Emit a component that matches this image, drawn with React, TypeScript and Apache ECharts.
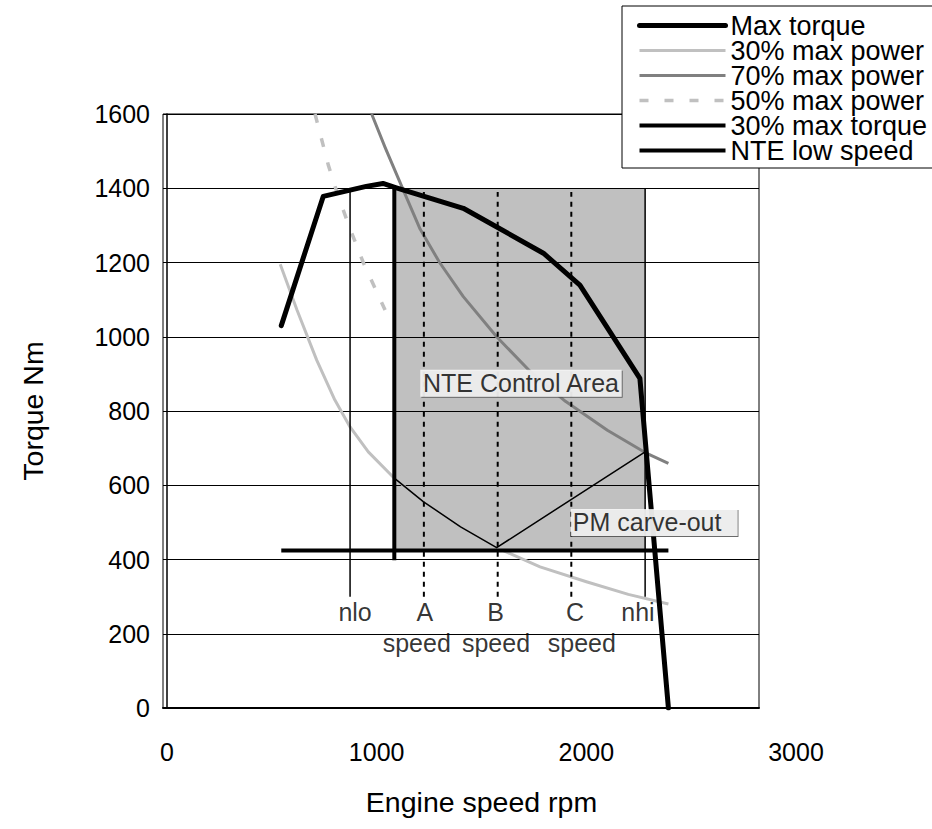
import React, { useEffect, useRef } from "react";
import * as echarts from "echarts";

// ---- data (engine speed rpm, torque Nm) ----
const maxTorque: number[][] = [
  [545, 1030], [745, 1378], [950, 1405], [1030, 1413], [1090, 1402],
  [1413, 1346], [1795, 1225], [1969, 1139], [2255, 888], [2391, 0],
];
const power30: number[][] = [
  [540, 1195], [620, 1072], [714, 937], [800, 830], [873, 757], [960, 690],
  [1084, 619], [1222, 556], [1400, 488], [1572, 432], [1779, 380],
  [2000, 340], [2200, 306], [2391, 280],
];
const power70: number[][] = [
  [976, 1600], [1040, 1510], [1127, 1395], [1207, 1290], [1300, 1200],
  [1413, 1108], [1572, 1000], [1731, 907], [1900, 826], [2100, 748],
  [2280, 688], [2391, 659],
];
const power50: number[][] = [
  [706, 1600], [769, 1463], [809, 1391], [870, 1295], [936, 1200], [1040, 1072],
];
const torque30: number[][] = [[545, 424], [2391, 424]];
const nteLowSpeed: number[][] = [[1084, 398], [1084, 1400]];
const nloLine: number[][] = [[873, 300], [873, 1395]];
const nhiLine: number[][] = [[2280, 300], [2280, 1400]];
const speedA: number[][] = [[1225, 300], [1225, 1390]];
const speedB: number[][] = [[1577, 300], [1577, 1390]];
const speedC: number[][] = [[1928, 300], [1928, 1390]];
const pmCarveOut: number[][] = [
  [1084, 619], [1222, 556], [1400, 488], [1572, 432], [2280, 690],
];
// NTE control area: [xFrom, yFrom, xTo, yTo]
const controlArea: number[] = [1084, 424, 2280, 1400];

const xTickMin = 0;
const xTickMax = 3000;
const xTickStep = 1000;
const yMin = 0;
const yMax = 1600;
const yStep = 200;

const speedMarks: { name: string; x: number; y: number }[] = [
  { name: "nlo", x: 897, y: 259 },
  { name: "A", x: 1230, y: 259 },
  { name: "B", x: 1567, y: 259 },
  { name: "C", x: 1946, y: 259 },
  { name: "nhi", x: 2246, y: 259 },
  { name: "speed", x: 1191, y: 174 },
  { name: "speed", x: 1569, y: 174 },
  { name: "speed", x: 1978, y: 174 },
];
const areaLabels: { name: string; x: number; y: number }[] = [
  { name: "NTE Control Area", x: 1688, y: 875 },
  { name: "PM carve-out", x: 2323, y: 500 },
];

const legendNames = [
  "Max torque",
  "30% max power",
  "70% max power",
  "50% max power",
  "30% max torque",
  "NTE low speed",
];

const FONT = "Liberation Sans, Arial, sans-serif";

export default function App() {
  const ref = useRef<HTMLDivElement>(null);

  useEffect(() => {
    document.body.style.margin = "0";
    const chart = echarts.init(ref.current!, null, { renderer: "svg" });

    const line = (
      name: string,
      data: number[][],
      color: string,
      width: number,
      type: any = "solid",
      extra: any = {}
    ) => ({
      type: "line",
      name,
      data,
      symbol: "none",
      silent: true,
      xAxisIndex: 0,
      yAxisIndex: 0,
      z: 2,
      lineStyle: { color, width, type, cap: "butt", join: "round", ...extra },
      itemStyle: { color },
    });

    chart.setOption({
      animation: false,
      grid: [
        {
          left: 163,
          top: 114,
          width: 596,
          height: 594,
          show: true,
          borderColor: "#000",
          borderWidth: 1,
          backgroundColor: "transparent",
          outerBoundsMode: "none",
        },
        {
          left: 167,
          top: 114,
          width: 629,
          height: 594,
          show: false,
          outerBoundsMode: "none",
        },
      ],
      xAxis: [
        {
          type: "value",
          gridIndex: 0,
          min: -19,
          max: 2823,
          axisLabel: { show: false },
          axisTick: { show: false },
          splitLine: { show: false },
          axisLine: { show: true, lineStyle: { color: "#000", width: 2 } },
        },
        {
          type: "value",
          gridIndex: 1,
          min: xTickMin,
          max: xTickMax,
          interval: xTickStep,
          axisLine: { show: false },
          axisTick: { show: false },
          splitLine: { show: false },
          axisLabel: {
            fontFamily: FONT,
            fontSize: 25,
            color: "#000",
            margin: 31,
            formatter: (v: number) => String(v),
          },
          name: "Engine speed rpm",
          nameLocation: "middle",
          nameGap: 79,
          nameTextStyle: { fontFamily: FONT, fontSize: 28.5, color: "#000" },
        },
      ],
      yAxis: [
        {
          type: "value",
          gridIndex: 0,
          min: yMin,
          max: yMax,
          interval: yStep,
          z: 1,
          axisLine: { show: true, lineStyle: { color: "#000", width: 1.5 } },
          axisTick: { show: false },
          splitLine: { show: true, lineStyle: { color: "#000", width: 1 } },
          axisLabel: {
            fontFamily: FONT,
            fontSize: 25,
            color: "#000",
            margin: 13,
            formatter: (v: number) => String(v),
          },
          name: "Torque Nm",
          nameLocation: "middle",
          nameGap: 116,
          nameTextStyle: { fontFamily: FONT, fontSize: 28.5, color: "#000" },
        },
        {
          type: "value",
          gridIndex: 1,
          min: yMin,
          max: yMax,
          show: false,
        },
      ],
      legend: {
        data: legendNames,
        orient: "vertical",
        left: 622,
        top: 6,
        padding: [6, 40, 4, 15],
        itemGap: -2,
        itemWidth: 86,
        itemHeight: 25,
        backgroundColor: "#fff",
        borderColor: "#000",
        borderWidth: 1,
        borderRadius: 0,
        selectedMode: false,
        itemStyle: { opacity: 0 },
        lineStyle: { width: "inherit" },
        textStyle: {
          fontFamily: FONT,
          fontSize: 27,
          lineHeight: 25,
          color: "#000",
        },
      },
      series: [
        {
          type: "custom",
          name: "NTE Control Area",
          silent: true,
          z: 0,
          xAxisIndex: 0,
          yAxisIndex: 0,
          data: [controlArea],
          renderItem: (params: any, api: any) => {
            const p1 = api.coord([api.value(0), api.value(1)]);
            const p2 = api.coord([api.value(2), api.value(3)]);
            return {
              type: "rect",
              shape: {
                x: Math.min(p1[0], p2[0]),
                y: Math.min(p1[1], p2[1]),
                width: Math.abs(p2[0] - p1[0]),
                height: Math.abs(p2[1] - p1[1]),
              },
              style: { fill: "#c0c0c0" },
            };
          },
        },
        line("30% max power", power30, "#c0c0c0", 3),
        line("70% max power", power70, "#808080", 3),
        line("50% max power", power50, "#c0c0c0", 3.5, [9, 16]),
        line("nlo", nloLine, "#000", 1.5),
        line("nhi", nhiLine, "#000", 1.5),
        line("A speed", speedA, "#000", 2, [5, 5]),
        line("B speed", speedB, "#000", 2, [5, 5]),
        line("C speed", speedC, "#000", 2, [5, 5]),
        line("PM carve-out", pmCarveOut, "#000", 1.5),
        line("30% max torque", torque30, "#000", 4),
        line("NTE low speed", nteLowSpeed, "#000", 4),
        line("Max torque", maxTorque, "#000", 5, "solid", { cap: "round" }),
        {
          type: "scatter",
          name: "speed labels",
          silent: true,
          z: 5,
          symbolSize: 1,
          itemStyle: { color: "rgba(0,0,0,0)" },
          data: speedMarks.map((m) => ({ name: m.name, value: [m.x, m.y] })),
          label: {
            show: true,
            position: "inside",
            formatter: (p: any) => p.name,
            fontFamily: FONT,
            fontSize: 25,
            color: "#000",
          },
        },
        {
          type: "scatter",
          name: "area labels",
          silent: true,
          z: 6,
          symbolSize: 1,
          itemStyle: { color: "rgba(0,0,0,0)" },
          data: areaLabels.map((m, i) => ({
            name: m.name,
            value: [m.x, m.y],
            label: {
              padding: i === 0 ? [1, 2, 1, 2] : [1, 16, 1, 2],
            },
          })),
          label: {
            show: true,
            position: "inside",
            formatter: (p: any) => p.name,
            fontFamily: FONT,
            fontSize: 25,
            lineHeight: 25,
            color: "#000",
            backgroundColor: "#fff",
            shadowColor: "#444",
            shadowOffsetX: 1,
            shadowOffsetY: 1,
            shadowBlur: 0,
          },
        },
      ],
    });

    return () => chart.dispose();
  }, []);

  return <div ref={ref} style={{ width: 932, height: 829 }} />;
}
